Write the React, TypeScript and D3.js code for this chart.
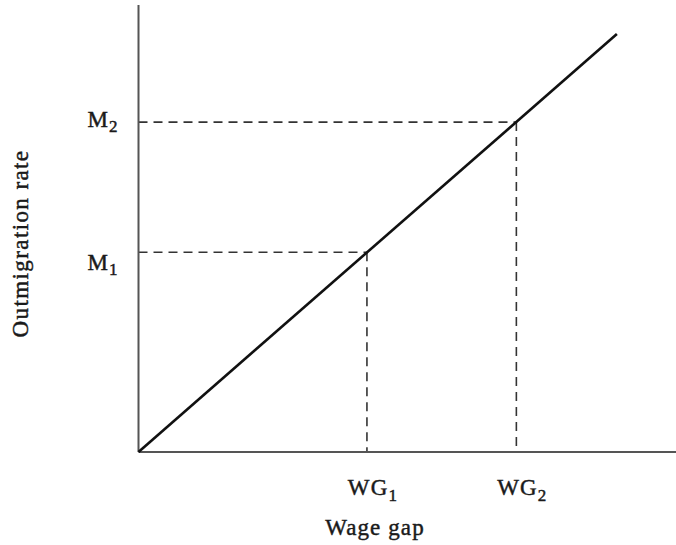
import React from "react";
import * as d3 from "d3";

// schematic values (arbitrary units)
const wageGaps = [4.25, 7.03];
const outRates = [4.47, 7.38];
const gapLabels = ["1", "2"];
const lineGap = [0, 8.9];
const lineRate = [0, 9.35];

const W = 676, H = 545;
const FONT = "'Liberation Serif', 'DejaVu Serif', serif";

export default function App() {
  const x = d3.scaleLinear().domain([0, 10]).range([138.5, 676]);
  const y = d3.scaleLinear().domain([0, 10]).range([452, 5]);

  const line = d3.line<number>()
    .x((_, i) => x(lineGap[i]))
    .y((_, i) => y(lineRate[i]));

  const textStyle = {
    fontFamily: FONT, fontSize: 23, letterSpacing: 1.1,
    fill: "#1a1a1a", stroke: "#1a1a1a", strokeWidth: 0.45,
  };
  const mOff = [18, 5];

  return (
    <svg width={W} height={H} style={{ position: "absolute", left: 0, top: 0, background: "#fff" }}>
      {/* guide lines */}
      <g stroke="#333" strokeWidth={1.6} strokeDasharray="9 6" fill="none">
        {wageGaps.map((g, i) => (
          <g key={i}>
            <line x1={x(0)} x2={x(g)} y1={y(outRates[i])} y2={y(outRates[i])} />
            <line x1={x(g)} x2={x(g)} y1={y(outRates[i])} y2={y(0)} />
          </g>
        ))}
      </g>

      {/* axes */}
      <line x1={x(0)} x2={x(0)} y1={y(0)} y2={y(10)} stroke="#555" strokeWidth={2} />
      <line x1={x(0)} x2={x(10)} y1={y(0)} y2={y(0)} stroke="#555" strokeWidth={2} />

      {/* outmigration curve */}
      <path d={line(lineGap) || ""} stroke="#111" strokeWidth={2.6} fill="none" />

      {/* M labels */}
      {outRates.map((m, i) => (
        <text key={i} x={x(0) - 51} y={y(m) + mOff[i]} style={textStyle}>
          M<tspan fontSize={17} dy={5}>{gapLabels[i]}</tspan>
        </text>
      ))}

      {/* WG labels */}
      {wageGaps.map((g, i) => (
        <text key={i} x={x(g) + 6} y={495} textAnchor="middle" style={textStyle}>
          WG<tspan fontSize={17} dy={6}>{gapLabels[i]}</tspan>
        </text>
      ))}

      {/* axis titles */}
      <text x={375} y={535} textAnchor="middle" style={textStyle}>Wage gap</text>
      <text transform={`translate(28,${(150 + 337) / 2}) rotate(-90)`} textAnchor="middle"
        style={{ ...textStyle, letterSpacing: 1.4 }}>
        Outmigration rate
      </text>
    </svg>
  );
}
